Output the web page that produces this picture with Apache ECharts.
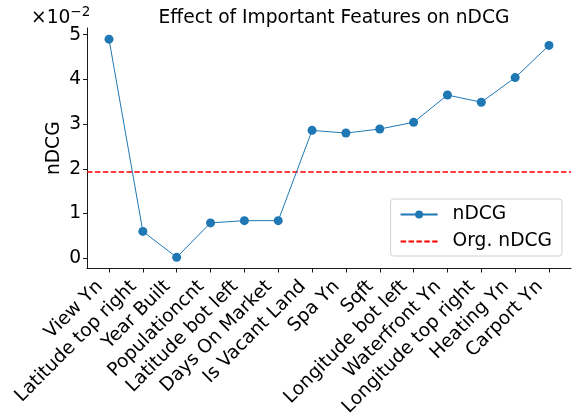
<!DOCTYPE html>
<html><head><meta charset="utf-8">
<script src="https://cdn.jsdelivr.net/npm/echarts@6/dist/echarts.min.js"></script>
<style>html,body{margin:0;padding:0;background:#fff}#c{width:573px;height:413px}</style>
</head><body><div id="c"></div>
<script>
const categories = ["View Yn","Latitude top right","Year Built","Populationcnt","Latitude bot left","Days On Market","Is Vacant Land","Spa Yn","Sqft","Longitude bot left","Waterfront Yn","Longitude top right","Heating Yn","Carport Yn"];
const ndcgValues = [4.90, 0.60, 0.02, 0.79, 0.84, 0.84, 2.86, 2.80, 2.89, 3.04, 3.65, 3.49, 4.04, 4.76];
const orgNdcg = 1.93;
const yTicks = [0, 1, 2, 3, 4, 5];

const FONT = 'DejaVu Sans';
const FS = 18.67;
const chart = echarts.init(document.getElementById('c'), null, {renderer: 'canvas'});
const xIdx = categories.map((_, i) => i);
chart.setOption({
  animation: false,
  textStyle: {fontFamily: FONT},
  title: {
    text: 'Effect of Important Features on nDCG',
    left: 329, top: 4, textAlign: 'center',
    textStyle: {fontFamily: FONT, fontSize: FS, fontWeight: 'normal', color: '#000'}
  },
  graphic: [{
    type: 'text', left: 31, top: 5,
    style: {
      text: '{a|×10}{b|−2}',
      rich: {
        a: {fontFamily: FONT, fontSize: FS, color: '#000'},
        b: {fontFamily: FONT, fontSize: 13.5, color: '#000', verticalAlign: 'top', padding: [0, 0, 12, 0]}
      }
    }
  }],
  legend: {
    orient: 'vertical', right: 11, top: 199,
    itemWidth: 37, itemHeight: 10, itemGap: 8,
    padding: [6, 10, 5, 9],
    backgroundColor: '#fff', borderColor: '#d0d0d0', borderWidth: 1, borderRadius: 3,
    textStyle: {fontFamily: FONT, fontSize: FS, color: '#000', padding: [0, 0, 0, 10]},
    data: [{name: 'nDCG'}, {name: 'Org. nDCG', itemStyle: {opacity: 0}}]
  },
  grid: {left: 87, top: 28, width: 484, height: 240.5, containLabel: false, outerBoundsMode: 'none'},
  xAxis: {
    type: 'value', min: -0.65, max: 13.65,
    splitLine: {show: false},
    axisLine: {show: true, onZero: false, lineStyle: {color: '#000', width: 0.9}},
    axisTick: {show: true, length: 4, customValues: xIdx, lineStyle: {color: '#000', width: 0.9}},
    axisLabel: {
      customValues: xIdx, rotate: 45, margin: 6, padding: [0, 13, 0, 0],
      fontFamily: FONT, fontSize: FS, color: '#000',
      formatter: v => categories[Math.round(v)]
    }
  },
  yAxis: {
    type: 'value', min: -0.23, max: 5.15,
    name: 'nDCG', nameLocation: 'middle', nameGap: 23, nameRotate: 90, nameMoveOverlap: false,
    nameTextStyle: {fontFamily: FONT, fontSize: FS, color: '#000'},
    splitLine: {show: false},
    axisLine: {show: true, onZero: false, lineStyle: {color: '#000', width: 0.9}},
    axisTick: {show: true, length: 4, customValues: yTicks, lineStyle: {color: '#000', width: 0.9}},
    axisLabel: {customValues: yTicks, margin: 6, fontFamily: FONT, fontSize: FS, color: '#000'}
  },
  series: [
    {
      name: 'nDCG', type: 'line',
      data: ndcgValues.map((v, i) => [i, v]),
      symbol: 'circle', symbolSize: 9,
      itemStyle: {color: '#1f77b4'},
      lineStyle: {color: '#1f77b4', width: 1},
      z: 3
    },
    {
      name: 'Org. nDCG', type: 'line',
      data: [[-0.65, orgNdcg], [13.65, orgNdcg]],
      symbol: 'none',
      itemStyle: {color: '#ff0000'},
      lineStyle: {color: '#ff0000', width: 1.5, type: [5.5, 2.4]},
      z: 2
    }
  ]
});
</script></body></html>
